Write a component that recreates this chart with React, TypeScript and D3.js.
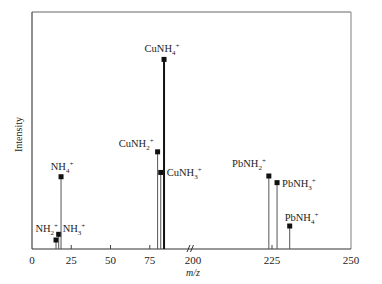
import React from "react";
import * as d3 from "d3";

const ions = ["NH2", "NH3", "NH4", "CuNH2", "CuNH3", "CuNH4", "PbNH2", "PbNH3", "PbNH4"];
const ionBase = ["NH", "NH", "NH", "CuNH", "CuNH", "CuNH", "PbNH", "PbNH", "PbNH"];
const ionSub = ["2", "3", "4", "2", "3", "4", "2", "3", "4"];
const mzValues = [15.3, 17, 18.5, 80, 82, 84.1, 224, 226.6, 230.6];
const intensities = [3.8, 6.2, 30.5, 41, 32.3, 80, 30.8, 28, 9.7];
const ticksLow = [0, 25, 50, 75];
const ticksHigh = [200, 225, 250];

const W = 382, H = 284;
const left = 32, right = 351, top = 12, bottom = 249;

const xLow = d3.scaleLinear().domain([0, 100]).range([left, 189]);
const xHigh = d3.scaleLinear().domain([200, 250]).range([193, right]);
const xPos = (m: number) => (m < 150 ? xLow(m) : xHigh(m));
const y = d3.scaleLinear().domain([0, 100]).range([bottom, top]);

// label placement: [anchor, dx, dy]
const place: [string, number, number][] = [
  ["end", 2, -8],
  ["start", 4, -2],
  ["middle", 1, -7],
  ["end", -4, -5],
  ["start", 6, 4],
  ["middle", -2, -7],
  ["end", -3, -9],
  ["start", 5, 4],
  ["start", -5, -5],
];

export default function App() {
  const font = "'Liberation Serif', 'Times New Roman', serif";
  return (
    <svg width={W} height={H} style={{ position: "absolute", left: 0, top: 0, background: "#fff" }}>
      {/* frame */}
      <line x1={left} y1={top} x2={right} y2={top} stroke="#666" strokeWidth={1.2} />
      <line x1={left} y1={top} x2={left} y2={bottom} stroke="#444" strokeWidth={1.2} />
      <line x1={right} y1={top} x2={right} y2={bottom} stroke="#aaa" strokeWidth={1.5} />
      <line x1={left} y1={bottom} x2={right} y2={bottom} stroke="#333" strokeWidth={1.2} />
      {/* ticks */}
      {ticksLow.map((t) => (
        <g key={"l" + t}>
          {t > 0 && <line x1={xLow(t)} x2={xLow(t)} y1={bottom} y2={bottom - 4} stroke="#444" />}
          <text x={xLow(t)} y={264} textAnchor="middle" fontFamily={font} fontSize={11} fill="#222">{t}</text>
        </g>
      ))}
      {ticksHigh.map((t) => (
        <g key={"h" + t}>
          {t === 225 && <line x1={xHigh(t)} x2={xHigh(t)} y1={bottom} y2={bottom - 4} stroke="#444" />}
          <text x={xHigh(t)} y={264} textAnchor="middle" fontFamily={font} fontSize={11} fill="#222">{t}</text>
        </g>
      ))}
      {/* break mark */}
      <line x1={187} y1={252} x2={190} y2={245} stroke="#333" strokeWidth={1} />
      <line x1={190.5} y1={252} x2={193.5} y2={245} stroke="#333" strokeWidth={1} />
      {/* axis titles */}
      <text x={193} y={276} textAnchor="middle" fontFamily={font} fontSize={10} fontStyle="italic" fill="#222">m/z</text>
      <text transform={`translate(22,${(top + bottom) / 2 + 4}) rotate(-90)`} textAnchor="middle" fontFamily={font} fontSize={10} fill="#222">Intensity</text>
      {/* peaks */}
      {ions.map((ion, i) => {
        const mx = xPos(mzValues[i]);
        const my = y(intensities[i]);
        const thick = ion === "CuNH4";
        const [anchor, dx, dy] = place[i];
        return (
          <g key={ion}>
            <line x1={mx} x2={mx} y1={bottom} y2={my} stroke={thick ? "#111" : "#555"} strokeWidth={thick ? 2 : 1} />
            <rect x={mx - 2.5} y={my - 2.5} width={5} height={5} fill="#111" />
            <text x={mx + dx} y={my + dy} textAnchor={anchor as any} fontFamily={font} fontSize={10.5} fill="#222">
              {ionBase[i]}
              <tspan fontSize={7} dy={3}>{ionSub[i]}</tspan>
              <tspan fontSize={7} dy={-7}>+</tspan>
            </text>
          </g>
        );
      })}
    </svg>
  );
}
